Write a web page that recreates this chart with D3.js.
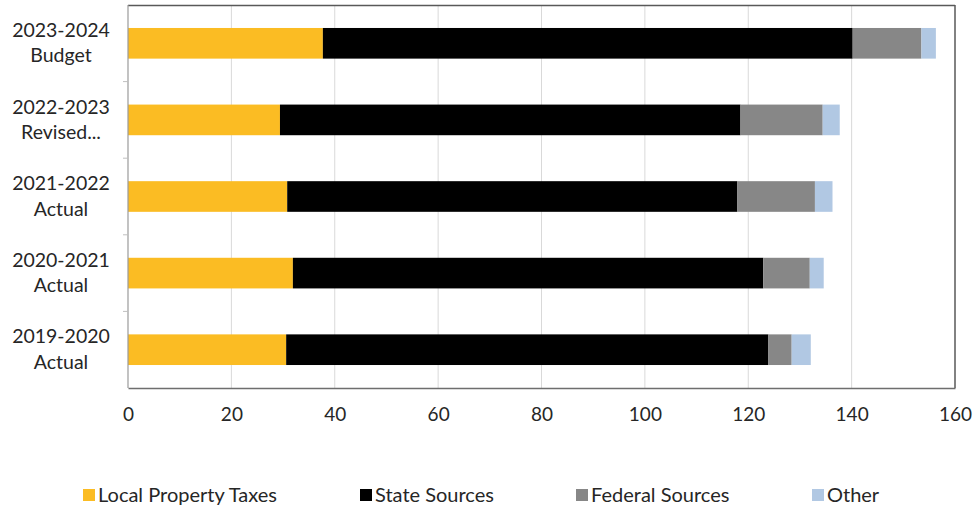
<!DOCTYPE html>
<html>
<head>
<meta charset="utf-8">
<script src="https://cdn.jsdelivr.net/npm/d3@7"></script>
<style>
  html, body { margin: 0; padding: 0; background: #fff; }
  svg text { font-family: Lato, "Open Sans", sans-serif; fill: #262626; }
</style>
</head>
<body>
<svg id="chart" width="978" height="507"></svg>
<script>
// Revenue by source, millions of dollars
const categories = [
  ["2023-2024", "Budget"],
  ["2022-2023", "Revised..."],
  ["2021-2022", "Actual"],
  ["2020-2021", "Actual"],
  ["2019-2020", "Actual"]
];
const seriesNames = ["Local Property Taxes", "State Sources", "Federal Sources", "Other"];
const localTaxes   = [37.7, 29.4, 30.8, 31.9, 30.6];
const stateSources = [102.5, 89.1, 87.1, 91.0, 93.3];
const federal      = [13.3, 15.9, 15.0, 9.0, 4.5];
const other        = [2.8, 3.3, 3.4, 2.7, 3.7];
const xTicks = [0, 20, 40, 60, 80, 100, 120, 140, 160];
const colors = ["#fbbc23", "#000000", "#878787", "#b1c8e3"];

const rows = categories.map((c, i) => ({
  key: c.join(" "),
  lines: c,
  "Local Property Taxes": localTaxes[i],
  "State Sources": stateSources[i],
  "Federal Sources": federal[i],
  "Other": other[i]
}));

const svg = d3.select("#chart");
const m = { left: 128, right: 955, top: 5, bottom: 388 };

const x = d3.scaleLinear().domain([0, 160]).range([m.left, m.right]);
const y = d3.scaleBand().domain(rows.map(r => r.key))
  .range([m.top, m.bottom]).paddingInner(0.6).paddingOuter(0.3);
const color = d3.scaleOrdinal().domain(seriesNames).range(colors);

// vertical gridlines
svg.append("g").selectAll("line")
  .data(xTicks.filter(t => t > 0 && t < 160))
  .join("line")
  .attr("x1", d => x(d)).attr("x2", d => x(d))
  .attr("y1", m.top).attr("y2", m.bottom)
  .attr("stroke", "#d9d9d9").attr("stroke-width", 1);

// stacked bars
const stacked = d3.stack().keys(seriesNames)(rows);
svg.append("g").selectAll("g")
  .data(stacked)
  .join("g")
  .attr("fill", d => color(d.key))
  .selectAll("rect")
  .data(d => d)
  .join("rect")
  .attr("x", d => x(d[0]))
  .attr("width", d => x(d[1]) - x(d[0]))
  .attr("y", d => y(d.data.key))
  .attr("height", y.bandwidth());

// plot frame
svg.append("line").attr("x1", m.left).attr("x2", m.right).attr("y1", m.top + 0.5).attr("y2", m.top + 0.5)
  .attr("stroke", "#595959").attr("stroke-width", 1.5);
svg.append("line").attr("x1", m.right).attr("x2", m.right).attr("y1", m.top).attr("y2", m.bottom)
  .attr("stroke", "#595959").attr("stroke-width", 1.5);
svg.append("line").attr("x1", m.left).attr("x2", m.left).attr("y1", m.top).attr("y2", m.bottom)
  .attr("stroke", "#9a9a9a").attr("stroke-width", 1.2);

// x axis
const xAxis = svg.append("g")
  .attr("transform", `translate(0,${m.bottom})`)
  .call(d3.axisBottom(x).tickValues(xTicks).tickSize(0).tickPadding(20));
xAxis.select(".domain").attr("stroke", "#6e6e6e").attr("stroke-width", 1.5);
xAxis.selectAll("text").style("font-size", "19px").attr("fill", "#262626");

// category tick marks between bands
svg.append("g").selectAll("line")
  .data(d3.range(1, rows.length))
  .join("line")
  .attr("x1", m.left - 5).attr("x2", m.left)
  .attr("y1", i => m.top + i * (m.bottom - m.top) / rows.length)
  .attr("y2", i => m.top + i * (m.bottom - m.top) / rows.length)
  .attr("stroke", "#bfbfbf");

// category labels (two lines, centred)
const lab = svg.append("g").selectAll("text")
  .data(rows)
  .join("text")
  .attr("text-anchor", "middle")
  .style("font-size", "19.5px")
  .attr("y", d => y(d.key) + y.bandwidth() / 2);
lab.append("tspan").attr("x", 61).attr("dy", "-0.32em").text(d => d.lines[0]);
lab.append("tspan").attr("x", 61).attr("dy", "1.3em").text(d => d.lines[1]);

// legend
const legendX = [83, 360, 576, 812];
const lg = svg.append("g").selectAll("g")
  .data(seriesNames)
  .join("g")
  .attr("transform", (d, i) => `translate(${legendX[i]},489)`);
lg.append("rect").attr("width", 12).attr("height", 12).attr("fill", d => color(d));
lg.append("text").attr("x", 15).attr("y", 6).attr("dy", "0.35em")
  .style("font-size", "20px").text(d => d);
</script>
</body>
</html>
